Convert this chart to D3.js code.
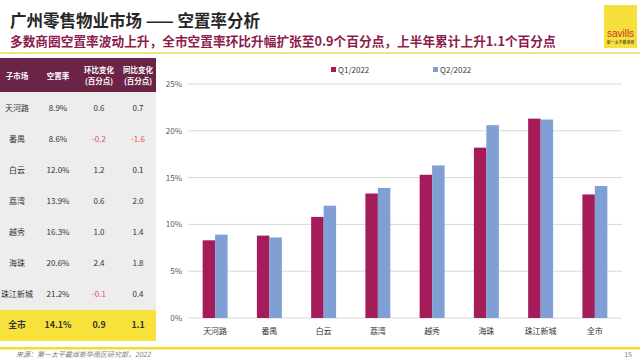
<!DOCTYPE html>
<html><head><meta charset="utf-8">
<script src="https://cdn.jsdelivr.net/npm/d3@7"></script>
<style>
body{margin:0;background:#fff;}
svg{display:block;font-family:"Noto Sans CJK SC","Noto Sans",sans-serif;}
</style></head>
<body><svg id="c" width="640" height="360"></svg>
<script>
const categories = ["天河路","番禺","白云","荔湾","越秀","海珠","珠江新城","全市"];
const q1Values = [8.3, 8.8, 10.8, 13.3, 15.3, 18.2, 21.3, 13.2];
const q2Values = [8.9, 8.6, 12.0, 13.9, 16.3, 20.6, 21.2, 14.1];
const seriesNames = ["Q1/2022","Q2/2022"];
const yTicks = [0,5,10,15,20,25];
const tableHeader = ["子市场","空置率",["环比变化","(百分点)"],["同比变化","(百分点)"]];
const tableRate = ["8.9%","8.6%","12.0%","13.9%","16.3%","20.6%","21.2%","14.1%"];
const tableQoQ = ["0.6","-0.2","1.2","0.6","1.0","2.4","-0.1","0.9"];
const tableYoY = ["0.7","-1.6","0.1","2.0","1.4","1.8","0.4","1.1"];

const svg = d3.select("#c");
const colors = ["#A51C5A","#7F9FD5"];

// Header
svg.append("text").attr("x",10).attr("y",27).attr("font-size",16.5).attr("font-weight","bold").attr("fill","#262626")
  .text("广州零售物业市场 —— 空置率分析");
svg.append("text").attr("x",10).attr("y",46).attr("font-size",12.7).attr("font-weight","bold").attr("fill","#8E1B4E")
  .text("多数商圈空置率波动上升，全市空置率环比升幅扩张至0.9个百分点，上半年累计上升1.1个百分点");
svg.append("rect").attr("x",0).attr("y",52).attr("width",640).attr("height",2).attr("fill","#F6E27A");

// Logo
svg.append("rect").attr("x",604).attr("y",5).attr("width",33).attr("height",43).attr("fill","#F7DF3C");
svg.append("text").attr("x",620.5).attr("y",37).attr("text-anchor","middle").attr("font-size",10).attr("fill","#C0392B")
  .attr("font-family","Liberation Sans, sans-serif").text("savills");
svg.append("text").attr("x",620.5).attr("y",44).attr("text-anchor","middle").attr("font-size",4).attr("fill","#333").text("第一太平戴维斯");

// Table
const rowY = d3.scaleBand().domain(categories).range([92,341]);
const colX = [17,58,99,138];
svg.append("rect").attr("x",0).attr("y",58).attr("width",156).attr("height",34).attr("fill","#6B2446");
svg.append("rect").attr("x",0).attr("y",92).attr("width",156).attr("height",rowY("全市")-92).attr("fill","#EDEDED");
svg.append("rect").attr("x",0).attr("y",rowY("全市")).attr("width",156).attr("height",rowY.bandwidth()).attr("fill","#F7E23B");
tableHeader.forEach((h,i)=>{
  const t = svg.append("text").attr("x",colX[i]).attr("text-anchor","middle").attr("font-size",7.5).attr("font-weight","bold").attr("fill","#fff");
  if (Array.isArray(h)) {
    t.attr("y",73); t.append("tspan").attr("x",colX[i]).text(h[0]);
    t.append("tspan").attr("x",colX[i]).attr("dy",11).text(h[1]);
  } else t.attr("y",79).text(h);
});
categories.forEach((c,i)=>{
  const y = rowY(c)+rowY.bandwidth()/2+3;
  const tot = c==="全市";
  const fw = tot?"bold":"normal";
  const fs = tot?8.8:8;
  const vals=[c,tableRate[i],tableQoQ[i],tableYoY[i]];
  vals.forEach((v,j)=>{
    svg.append("text").attr("x",colX[j]).attr("y",y).attr("text-anchor","middle").attr("font-size",fs).attr("font-weight",fw)
      .attr("fill", v.startsWith("-")?"#E8505B":"#333").text(v);
  });
});

// Chart
const x0 = d3.scaleBand().domain(categories).range([188,622]).paddingInner(0.54).paddingOuter(0.27);
const x1 = d3.scaleBand().domain(seriesNames).range([0,x0.bandwidth()]);
const y = d3.scaleLinear().domain([0,25]).range([318,84]);

const grid = svg.append("g");
yTicks.forEach(t=>{
  grid.append("line").attr("x1",188).attr("x2",622).attr("y1",y(t)).attr("y2",y(t)).attr("stroke","#D9D9D9").attr("stroke-width",1);
  grid.append("text").attr("x",182).attr("y",y(t)+3).attr("text-anchor","end").attr("font-size",8).attr("fill","#595959").text(t+"%");
});

const series=[q1Values,q2Values];
series.forEach((vals,s)=>{
  svg.append("g").selectAll("rect").data(categories).join("rect")
    .attr("x",(d)=>x0(d)+x1(seriesNames[s]))
    .attr("width",x1.bandwidth())
    .attr("y",(d,i)=>y(vals[i]))
    .attr("height",(d,i)=>y(0)-y(vals[i]))
    .attr("fill",colors[s]);
});

categories.forEach(c=>{
  svg.append("text").attr("x",x0(c)+x0.bandwidth()/2).attr("y",334).attr("text-anchor","middle").attr("font-size",8).attr("fill","#333").text(c);
});

// Legend
const legX=[331,433];
seriesNames.forEach((n,i)=>{
  svg.append("rect").attr("x",legX[i]).attr("y",67).attr("width",5).attr("height",5).attr("fill",colors[i]);
  svg.append("text").attr("x",legX[i]+7).attr("y",72.5).attr("font-size",8).attr("fill","#404040").text(n);
});

// Footer
svg.append("rect").attr("x",0).attr("y",347).attr("width",640).attr("height",2.5).attr("fill","#F7DA2C");
svg.append("text").attr("x",16).attr("y",357).attr("font-size",7).attr("font-style","italic").attr("fill","#7F7F7F")
  .text("来源：第一太平戴维斯华南区研究部，2022");
svg.append("text").attr("x",632).attr("y",357).attr("text-anchor","end").attr("font-size",7).attr("fill","#7F7F7F").text("15");
</script></body></html>
